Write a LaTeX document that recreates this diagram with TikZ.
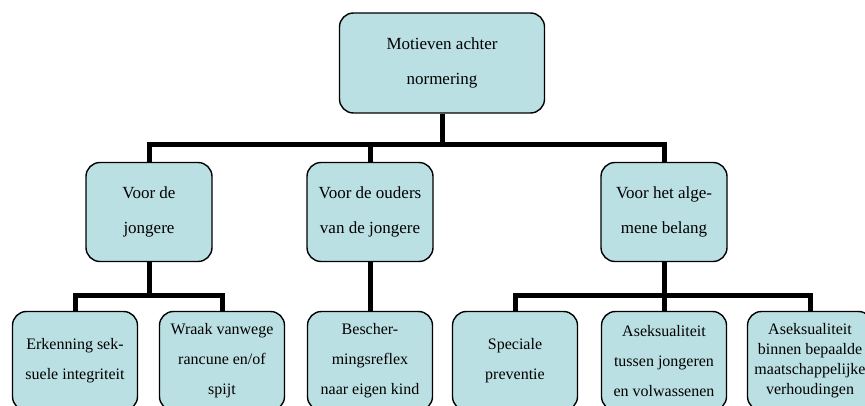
\documentclass[tikz,border=0pt]{standalone}
\usepackage{fontspec}
\setmainfont{Liberation Serif}
\usepackage{xcolor}
\usepackage{tikz}
\definecolor{boxblue}{RGB}{187,224,227}
\tikzstyle{box}=[fill=boxblue, draw=black, line width=1.4pt, shape=rectangle, rounded corners=14pt, align=center, inner sep=2pt]
\tikzstyle{top node}=[style=box, minimum width=205pt, minimum height=100pt, font=\fontsize{17}{35}\selectfont]
\tikzstyle{mid node}=[style=box, minimum width=126pt, minimum height=99pt, font=\fontsize{17}{35}\selectfont]
\tikzstyle{low node}=[style=box, minimum width=125pt, minimum height=99pt, font=\fontsize{16}{30}\selectfont]
\tikzstyle{trunk}=[draw=black, line width=5pt]
\pgfdeclarelayer{nodelayer}
\pgfdeclarelayer{edgelayer}
\pgfsetlayers{edgelayer,nodelayer,main}

\begin{document}
\begin{tikzpicture}[x=1pt, y=-1pt]
    	\useasboundingbox (0,0) rectangle (865,406);
    	\begin{pgfonlayer}{nodelayer}
    		\node [style=top node] (0) at (442, 63) {Motieven achter\\normering};
    		\node [style=mid node] (1) at (149, 212) {Voor de\\jongere};
    		\node [style=mid node] (2) at (370, 212) {Voor de ouders\\van de jongere};
    		\node [style=mid node] (3) at (664, 212) {Voor het alge-\\mene belang};
    		\node [style=low node] (4) at (75, 361) {Erkenning sek-\\suele integriteit};
    		\node [style=low node] (5) at (222, 361) {Wraak vanwege\\rancune en/of\\spijt};
    		\node [style=low node] (6) at (370, 361) {Bescher-\\mingsreflex\\naar eigen kind};
    		\node [style=low node] (7) at (515, 361) {Speciale\\preventie};
    		\node [style=low node] (8) at (664, 361) {Aseksualiteit\\tussen jongeren\\en volwassenen};
    		\node [style=low node, font=\fontsize{16}{20}\selectfont] (9) at (810, 361) {Aseksualiteit\\binnen bepaalde\\maatschappelijke\\verhoudingen};
    	\end{pgfonlayer}
    	\begin{pgfonlayer}{edgelayer}
    		\coordinate (10) at (442, 145);
    		\coordinate (11) at (149, 295);
    		\coordinate (12) at (664, 295);
    		\draw [style=trunk] (0) -- (10);
    		\draw [style=trunk] (10) -| (1);
    		\draw [style=trunk] (10) -| (2);
    		\draw [style=trunk] (10) -| (3);
    		\draw [style=trunk] (1) -- (11);
    		\draw [style=trunk] (11) -| (4);
    		\draw [style=trunk] (11) -| (5);
    		\draw [style=trunk] (2) -- (6);
    		\draw [style=trunk] (3) -- (12);
    		\draw [style=trunk] (12) -| (7);
    		\draw [style=trunk] (12) -- (8);
    		\draw [style=trunk] (12) -| (9);
    	\end{pgfonlayer}
    \end{tikzpicture}
\end{document}
